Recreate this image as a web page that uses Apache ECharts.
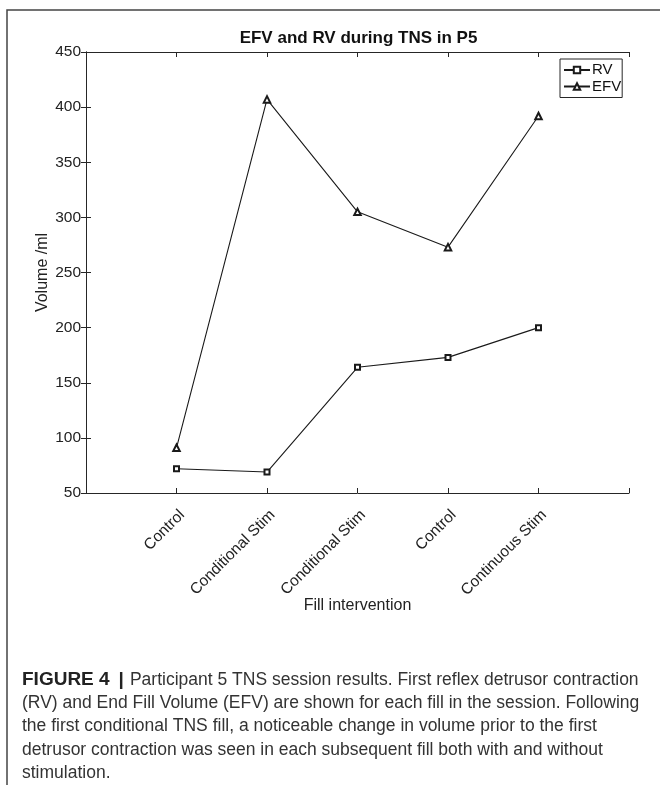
<!DOCTYPE html>
<html>
<head>
<meta charset="utf-8">
<script src="https://cdn.jsdelivr.net/npm/echarts@6/dist/echarts.min.js"></script>
<style>
html,body{margin:0;padding:0;background:#fff;}
#chart{width:660px;height:785px;}
</style>
</head>
<body>
<div id="chart"></div>
<script>
const categories = ['Control', 'Conditional Stim', 'Conditional Stim', 'Control', 'Continuous Stim'];
const rvValues = [72, 69, 164, 173, 200];
const efvValues = [91, 407, 305, 273, 392];
const yTicks = [50, 100, 150, 200, 250, 300, 350, 400, 450];
const titleText = 'EFV and RV during TNS in P5';
const xAxisName = 'Fill intervention';
const yAxisName = 'Volume /ml';
const captionLines = [
  '{b|FIGURE 4}{bar||}Participant 5 TNS session results. First reflex detrusor contraction',
  '(RV) and End Fill Volume (EFV) are shown for each fill in the session. Following',
  'the first conditional TNS fill, a noticeable change in volume prior to the first',
  'detrusor contraction was seen in each subsequent fill both with and without',
  'stimulation.'
];

const FONT = '"Liberation Sans", Arial, Helvetica, sans-serif';
const chart = echarts.init(document.getElementById('chart'), null, {renderer: 'canvas'});

const rvData = categories.map((c, i) => [i + 1, rvValues[i]]);
const efvData = categories.map((c, i) => [i + 1, efvValues[i]]);

const axisCommon = {
  axisLine: {show: true, lineStyle: {color: '#262626', width: 1}},
  splitLine: {show: false}
};

const option = {
  backgroundColor: '#fff',
  animation: false,
  textStyle: {fontFamily: FONT},
  title: {
    text: titleText,
    left: 353.5,
    textAlign: 'center',
    top: 25,
    textStyle: {fontFamily: FONT, fontSize: 17, fontWeight: 'bold', color: '#111'}
  },
  legend: {
    data: ['RV', 'EFV'],
    orient: 'vertical',
    left: 560,
    top: 59,
    padding: [3, 1, 3, 3],
    itemGap: 0.5,
    itemWidth: 26,
    itemHeight: 8,
    borderColor: '#262626',
    borderWidth: 1,
    backgroundColor: '#fff',
    textStyle: {fontFamily: FONT, fontSize: 15, color: '#111', padding: [0, 0, 0, -3], lineHeight: 16}
  },
  grid: {left: 86, right: 31, top: 52, bottom: 292, show: false},
  xAxis: [
    Object.assign({
      type: 'value',
      min: 0,
      max: 6,
      interval: 1,
      position: 'bottom',
      name: xAxisName,
      nameLocation: 'middle',
      nameGap: 105,
      nameMoveOverlap: false,
      nameTextStyle: {fontFamily: FONT, fontSize: 16, color: '#222'},
      axisTick: {show: true, inside: true, length: 5, lineStyle: {color: '#262626'}},
      axisLabel: {
        rotate: 45,
        margin: 14,
        verticalAlign: 'top',
        fontFamily: FONT,
        fontSize: 15.5,
        color: '#222',
        formatter: v => categories[v - 1] || ''
      }
    }, axisCommon),
    Object.assign({
      type: 'value',
      min: 0,
      max: 6,
      interval: 1,
      position: 'top',
      axisTick: {show: true, inside: true, length: 5, lineStyle: {color: '#262626'}},
      axisLabel: {show: false}
    }, axisCommon)
  ],
  yAxis: [
    Object.assign({
      type: 'value',
      min: yTicks[0],
      max: yTicks[yTicks.length - 1],
      interval: 50,
      position: 'left',
      name: yAxisName,
      nameLocation: 'middle',
      nameGap: 35,
      nameMoveOverlap: false,
      nameTextStyle: {fontFamily: FONT, fontSize: 16, color: '#222'},
      axisTick: {show: true, inside: true, length: 5, lineStyle: {color: '#262626'}},
      axisLabel: {fontFamily: FONT, fontSize: 15.5, color: '#222', margin: 5}
    }, axisCommon),
    Object.assign({
      type: 'value',
      min: yTicks[0],
      max: yTicks[yTicks.length - 1],
      interval: 50,
      position: 'right',
      axisTick: {show: true, inside: true, length: 5, lineStyle: {color: '#262626'}},
      axisLabel: {show: false}
    }, axisCommon)
  ],
  series: [
    {
      name: 'RV',
      type: 'line',
      data: rvData,
      symbol: 'emptyRect',
      symbolSize: 5,
      lineStyle: {color: '#1a1a1a', width: 1.1},
      itemStyle: {color: '#1a1a1a', borderColor: '#1a1a1a', borderWidth: 1},
      z: 3
    },
    {
      name: 'EFV',
      type: 'line',
      data: efvData,
      symbol: 'emptyTriangle',
      symbolSize: 6.5,
      lineStyle: {color: '#1a1a1a', width: 1.1},
      itemStyle: {color: '#1a1a1a', borderColor: '#1a1a1a', borderWidth: 1},
      z: 3
    }
  ],
  graphic: [
    {
      type: 'rect',
      shape: {x: 7, y: 10, width: 700, height: 800},
      style: {fill: 'none', stroke: '#444', lineWidth: 1.5},
      silent: true,
      z: -1
    },
    {
      type: 'text',
      left: 22,
      top: 668,
      style: {
        text: captionLines.join('\n'),
        fontFamily: FONT,
        fontSize: 17.5,
        lineHeight: 23.4,
        fill: '#333',
        rich: {
          b: {fontFamily: FONT, fontSize: 19, fontWeight: 'bold', fill: '#222', lineHeight: 23.4},
          bar: {fontFamily: FONT, fontSize: 19, fontWeight: 'bold', fill: '#222', lineHeight: 23.4, padding: [0, 6, 0, 9]}
        }
      }
    }
  ]
};
chart.setOption(option);
</script>
</body>
</html>
